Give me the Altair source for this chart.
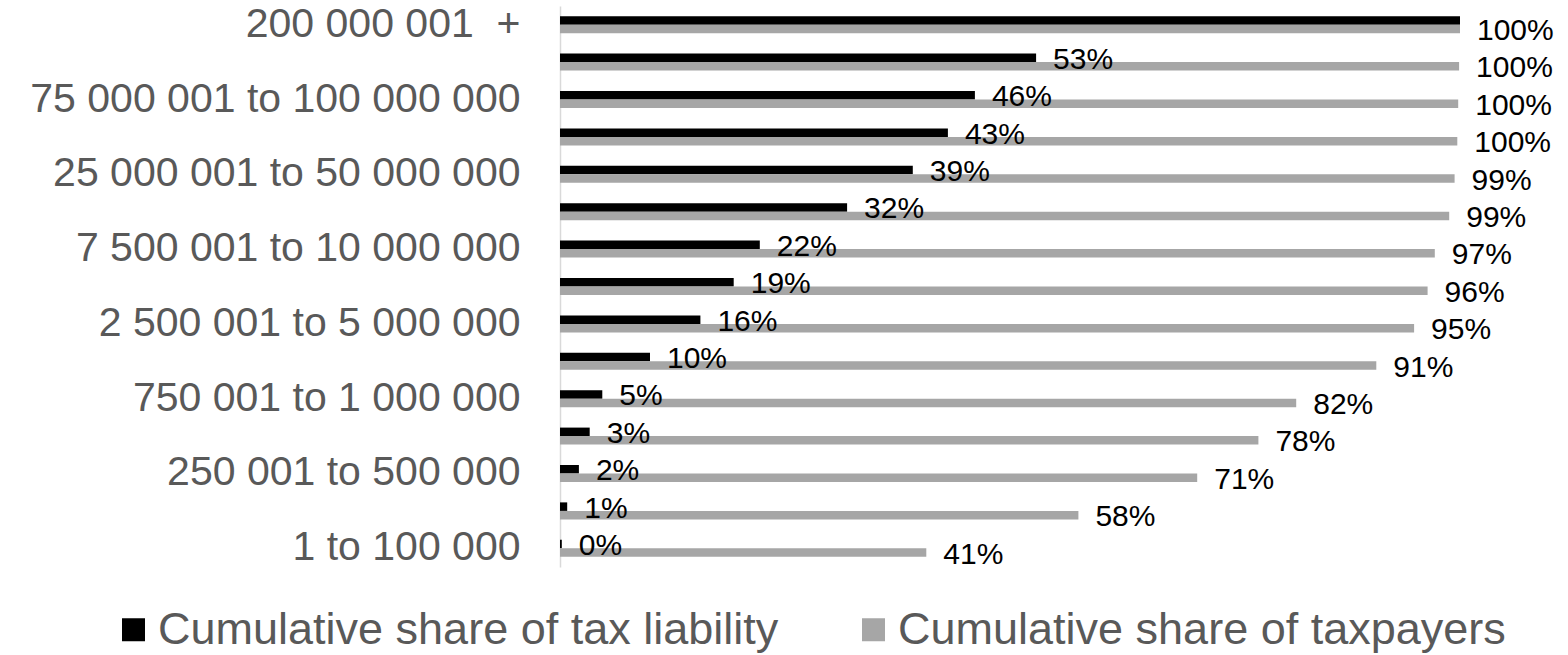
import altair as alt
import pandas as pd

# Income brackets, lowest to highest
brackets = [
    "1 to 100 000",
    "100 001 to 250 000",
    "250 001 to 500 000",
    "500 001 to 750 000",
    "750 001 to 1 000 000",
    "1 000 001 to 2 500 000",
    "2 500 001 to 5 000 000",
    "5 000 001 to 7 500 000",
    "7 500 001 to 10 000 000",
    "10 000 001 to 25 000 000",
    "25 000 001 to 50 000 000",
    "50 000 001 to 75 000 000",
    "75 000 001 to 100 000 000",
    "100 000 001 to 200 000 000",
    "200 000 001\u00a0\u00a0+\u00a0\u00a0",
]
shown_labels = brackets[::2]

series_names = ["Cumulative share of tax liability", "Cumulative share of taxpayers"]

liability = [0.2, 0.8, 2.1, 3.3, 4.7, 10.0, 15.6, 19.3, 22.2, 31.9, 39.2, 43.1, 46.1, 52.9, 100.0]
taxpayers = [40.7, 57.6, 70.8, 77.6, 81.8, 90.7, 94.9, 96.4, 97.2, 98.8, 99.4, 99.7, 99.8, 99.9, 100.0]

rows = []
for i, b in enumerate(brackets):
    for s, vals in zip(series_names, [liability, taxpayers]):
        v = vals[i]
        rows.append({"bracket": b, "series": s, "value": v, "label": f"{v:.0f}%",
                     "show": not (s == series_names[0] and v >= 100)})
df = pd.DataFrame(rows)

top_down = brackets[::-1]
FONT = "Liberation Sans"

y_enc = alt.Y(
    "bracket:N",
    sort=top_down,
    scale=alt.Scale(paddingInner=0.545, paddingOuter=0.2727),
    axis=alt.Axis(
        values=shown_labels, title=None, ticks=False,
        domainColor="#d9d9d9", domainWidth=1.5,
        labelFontSize=41, labelColor="#595959", labelFont=FONT,
        labelPadding=40, labelLimit=0,
    ),
)
yoff = alt.YOffset("series:N", sort=series_names)
x_enc = alt.X("value:Q", scale=alt.Scale(domain=[0, 100]), axis=None)

bars = alt.Chart(df).mark_bar().encode(
    y=y_enc, yOffset=yoff, x=x_enc,
    color=alt.Color(
        "series:N",
        scale=alt.Scale(domain=series_names, range=["#000000", "#a6a6a6"]),
        legend=alt.Legend(
            orient="none", legendX=-449, legendY=601, direction="horizontal",
            title=None, symbolType="square", symbolSize=529, symbolStrokeWidth=0,
            labelFontSize=45, labelColor="#595959", labelFont=FONT,
            labelLimit=0, columnPadding=72, labelOffset=2, padding=0,
        ),
    ),
)

labels = alt.Chart(df).transform_filter("datum.show").mark_text(
    align="left", baseline="middle", dx=17, dy=2, fontSize=30, font=FONT, color="#000000"
).encode(y=y_enc, yOffset=yoff, x=x_enc, text="label:N")

chart = alt.layer(bars, labels).properties(
    width=900, height=561,
    autosize=alt.AutoSizeParams(type="none"),
    padding={"left": 560, "top": 6, "right": 108, "bottom": 88},
).configure_view(strokeWidth=0)

chart.save("out.html", embed_options={"renderer": "svg", "actions": False})
